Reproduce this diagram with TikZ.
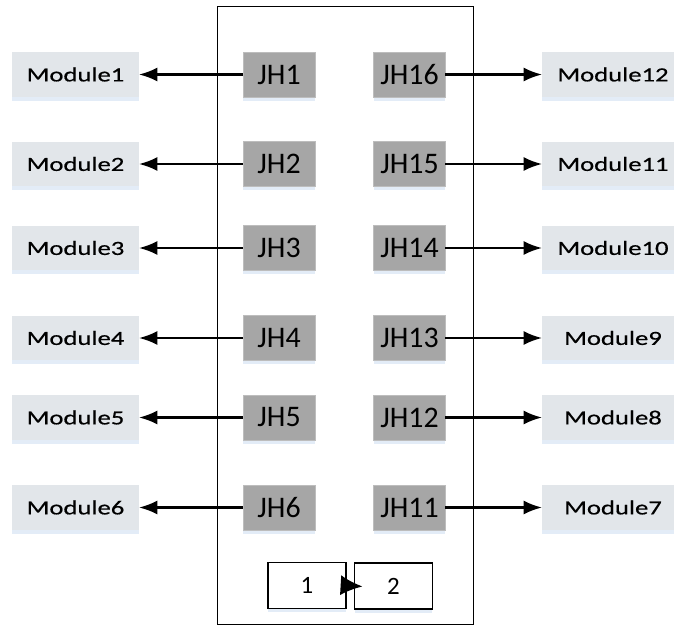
\documentclass[tikz,border=0pt]{standalone}
\usepackage{fontspec}
\setmainfont{Carlito}
\newfontfamily\modfont{Carlito}[FakeStretch=1.33,FakeBold=0.6]
\usepackage{tikz}
\usetikzlibrary{arrows.meta,shadows}
\usepackage{xcolor}
\definecolor{modfill}{HTML}{E2E6EA}
\definecolor{jhfill}{HTML}{A6A6A6}
\definecolor{jhline}{HTML}{BDBDBD}
\definecolor{glow}{HTML}{E3ECF7}

\begin{document}
\begin{tikzpicture}[x=0.02cm,y=-0.02cm,
  module/.style={fill=modfill,minimum width=2.54cm,minimum height=0.9cm,inner sep=0pt,outer sep=0pt,
    font=\modfont\fontsize{11.4}{13}\selectfont,
    drop shadow={shadow xshift=0pt,shadow yshift=-2pt,fill=glow,opacity=1}},
  wide/.style={module,minimum width=2.84cm},
  jh/.style={fill=jhfill,draw=jhline,line width=0.5pt,minimum width=1.44cm,minimum height=0.9cm,inner sep=0pt,outer sep=0pt,
    font=\fontsize{17}{19}\selectfont,
    drop shadow={shadow xshift=0pt,shadow yshift=-2pt,fill=glow,opacity=1}},
  cell/.style={fill=white,draw,line width=0.6pt,minimum width=1.56cm,minimum height=0.92cm,inner sep=0pt,outer sep=0pt,
    font=\fontsize{14.2}{16}\selectfont,
    drop shadow={shadow xshift=0pt,shadow yshift=-2pt,fill=glow,opacity=1}},
  link/.style={-{Latex[length=10.5pt,width=8pt]},line width=1.3pt}]
\useasboundingbox (0,0) rectangle (674,626);
\draw [line width=0.5pt] (217,6) rectangle (473,624);

% left column
\node [module] (m1) at (75.5,74.5) {Module1};
\node [module] (m2) at (75.5,164) {Module2};
\node [module] (m3) at (75.5,248) {Module3};
\node [module] (m4) at (75.5,338) {Module4};
\node [module] (m5) at (75.5,417.5) {Module5};
\node [module] (m6) at (75.5,507.5) {Module6};
\node [jh] (jh1) at (279,74.5) {JH1};
\node [jh] (jh2) at (279,164) {JH2};
\node [jh] (jh3) at (279,248) {JH3};
\node [jh] (jh4) at (279,338) {JH4};
\node [jh] (jh5) at (279,417.5) {JH5};
\node [jh] (jh6) at (279,507.5) {JH6};

% right column
\node [jh] (jh16) at (409.5,74.5) {JH16};
\node [jh] (jh15) at (409.5,164) {JH15};
\node [jh] (jh14) at (409.5,248) {JH14};
\node [jh] (jh13) at (409.5,338) {JH13};
\node [jh] (jh12) at (409.5,417.5) {JH12};
\node [jh] (jh11) at (409.5,507.5) {JH11};
\node [wide] (m12) at (613,74.5) {Module12};
\node [wide] (m11) at (613,164) {Module11};
\node [wide] (m10) at (613,248) {Module10};
\node [wide] (m9) at (613,338) {Module9};
\node [wide] (m8) at (613,417.5) {Module8};
\node [wide] (m7) at (613,507.5) {Module7};

\draw [link] (jh1.west) -- (m1.east);
\draw [link] (jh2.west) -- (m2.east);
\draw [link] (jh3.west) -- (m3.east);
\draw [link] (jh4.west) -- (m4.east);
\draw [link] (jh5.west) -- (m5.east);
\draw [link] (jh6.west) -- (m6.east);
\draw [link] (jh16.east) -- (m12.west);
\draw [link] (jh15.east) -- (m11.west);
\draw [link] (jh14.east) -- (m10.west);
\draw [link] (jh13.east) -- (m9.west);
\draw [link] (jh12.east) -- (m8.west);
\draw [link] (jh11.east) -- (m7.west);

% bottom pair
\node [cell] (c1) at (307,585.5) {1};
\node [cell] (c2) at (393.5,586) {2};
\draw [-{Latex[length=12.5pt,width=11.4pt]},line width=1.2pt,shorten >=-4.6pt] (c1.east) -- (c2.west);
\end{tikzpicture}
\end{document}
